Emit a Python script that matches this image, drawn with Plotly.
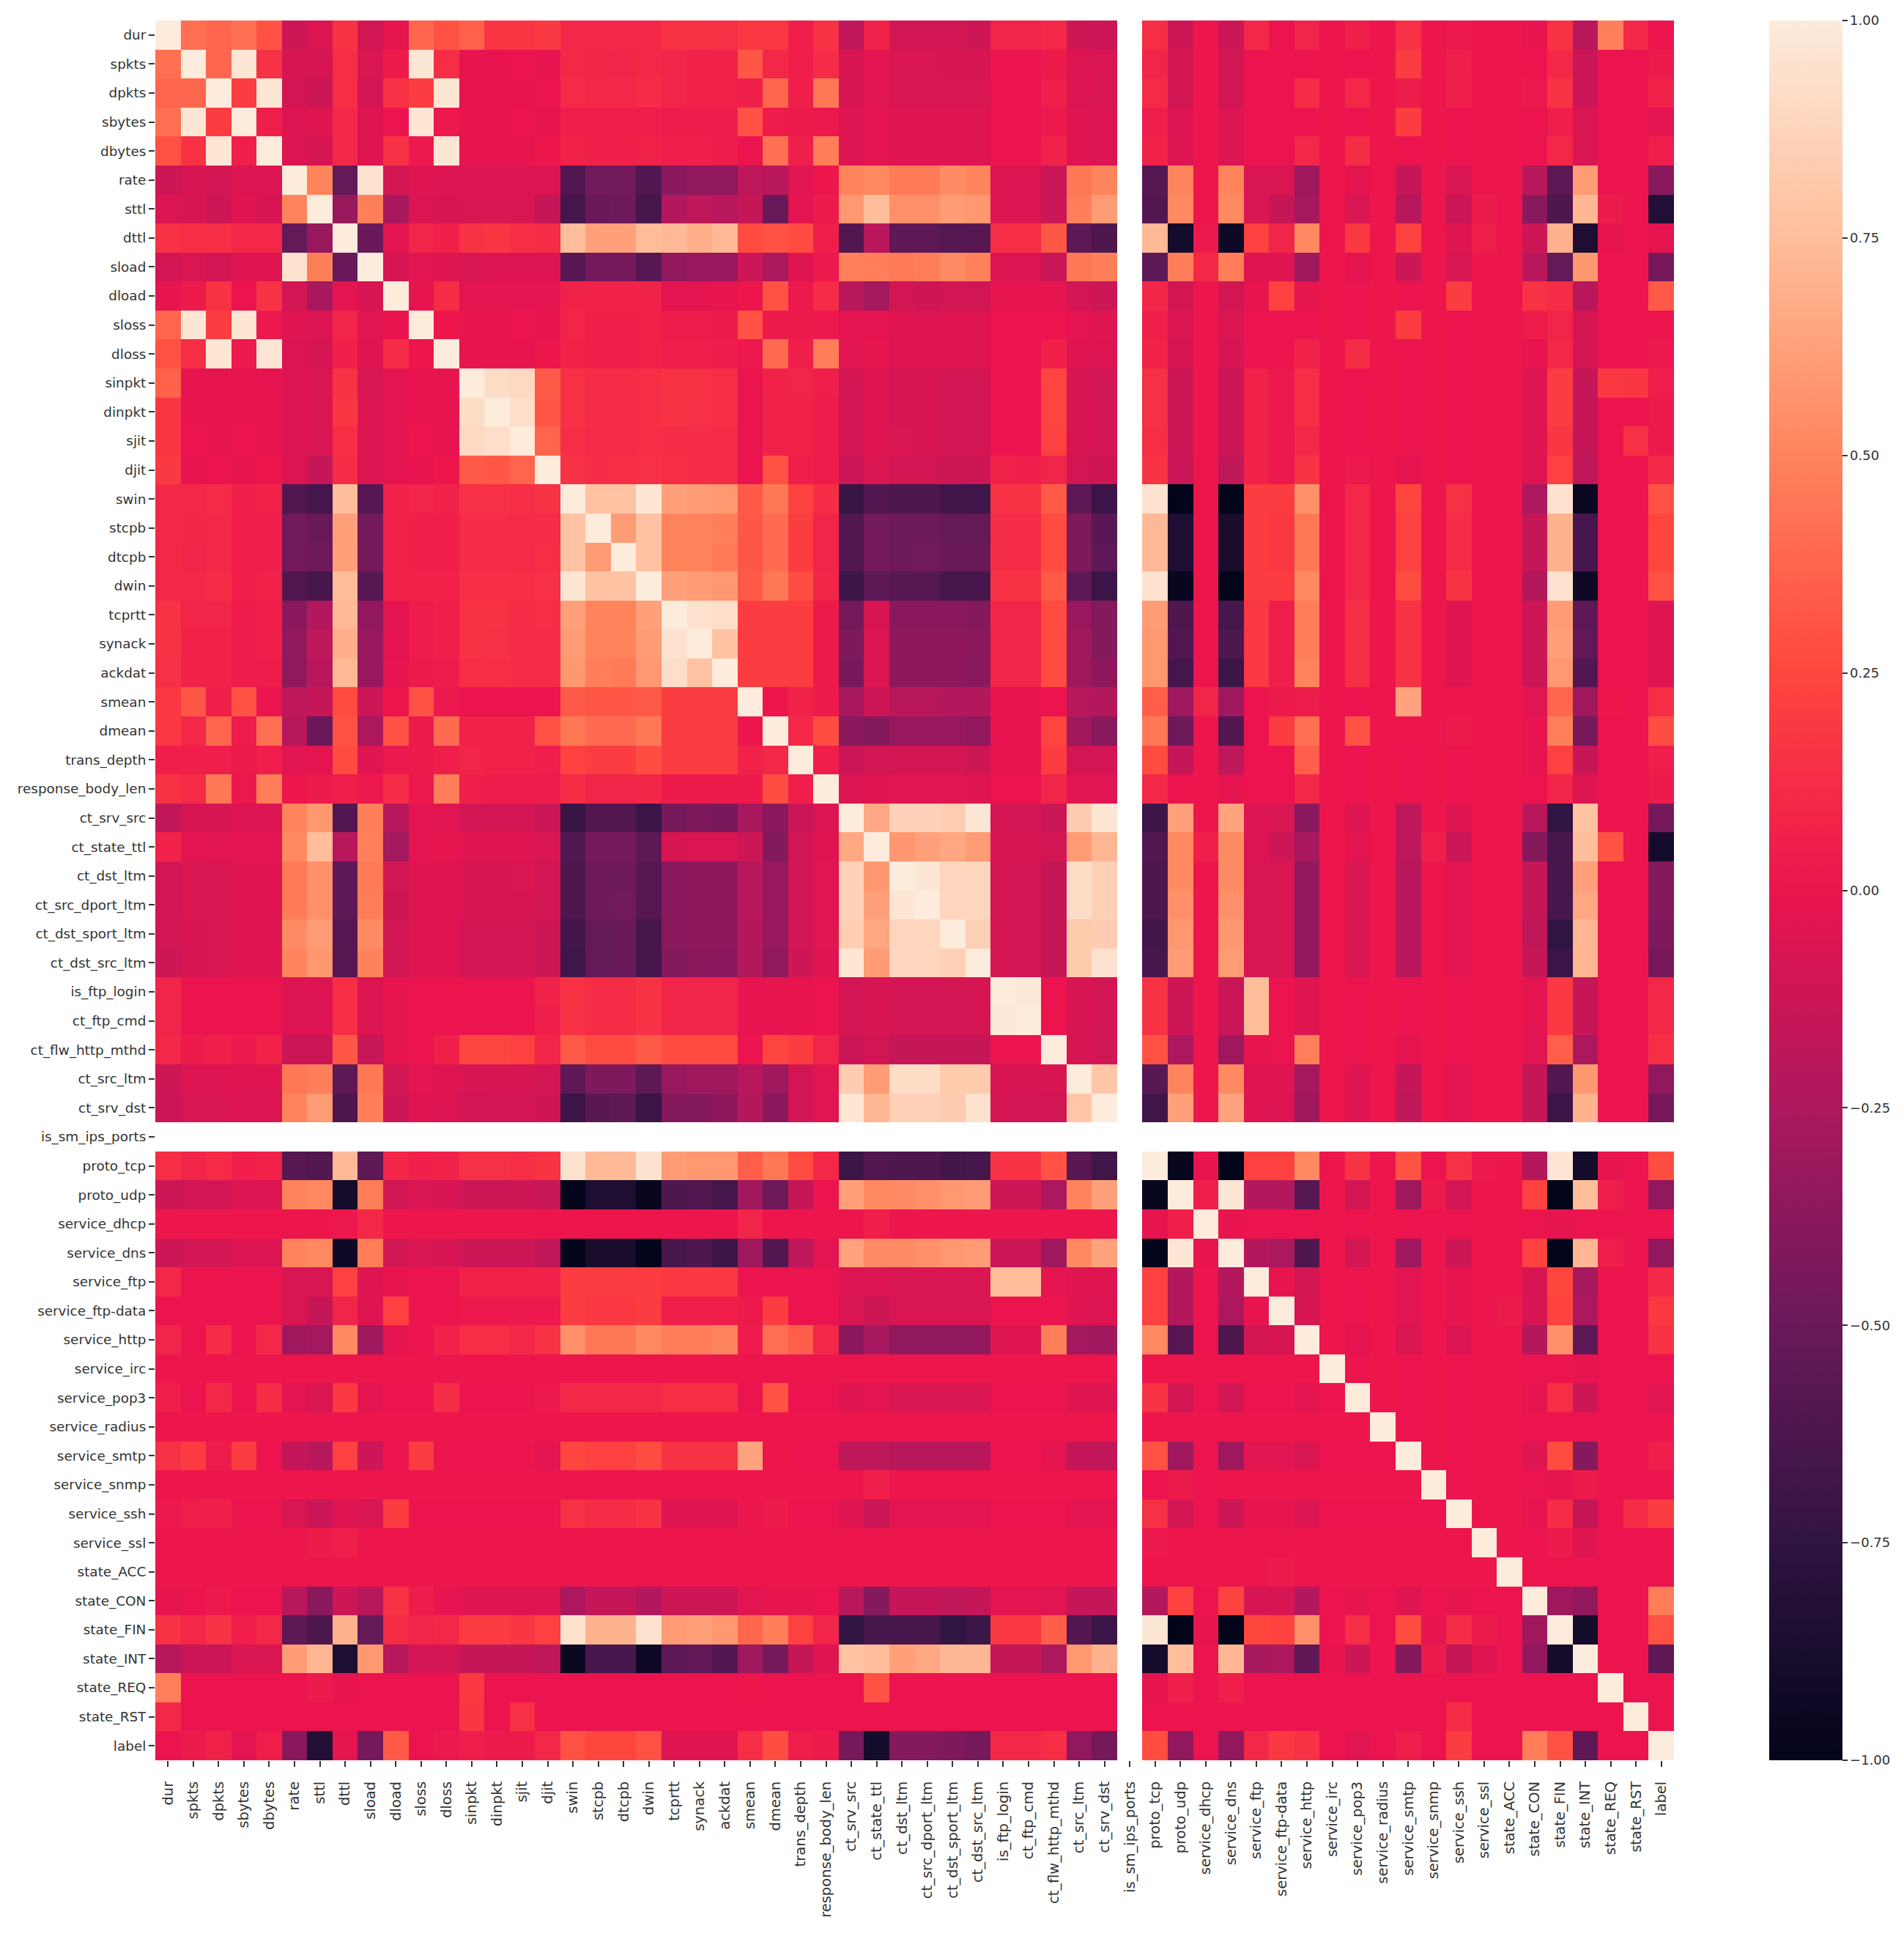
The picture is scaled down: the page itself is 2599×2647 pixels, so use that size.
import plotly.graph_objects as go

labels = ["dur","spkts","dpkts","sbytes","dbytes","rate","sttl","dttl","sload","dload","sloss","dloss",
"sinpkt","dinpkt","sjit","djit","swin","stcpb","dtcpb","dwin","tcprtt","synack","ackdat","smean","dmean",
"trans_depth","response_body_len","ct_srv_src","ct_state_ttl","ct_dst_ltm","ct_src_dport_ltm","ct_dst_sport_ltm",
"ct_dst_src_ltm","is_ftp_login","ct_ftp_cmd","ct_flw_http_mthd","ct_src_ltm","ct_srv_dst","is_sm_ips_ports",
"proto_tcp","proto_udp","service_dhcp","service_dns","service_ftp","service_ftp-data","service_http","service_irc",
"service_pop3","service_radius","service_smtp","service_snmp","service_ssh","service_ssl","state_ACC","state_CON",
"state_FIN","state_INT","state_REQ","state_RST","label"]

N = None
# Lower triangle of the correlation matrix, in hundredths.
lower_pct = [
[100],
[42,100],
[38,38,100],
[42,97,20,100],
[30,15,97,5,100],
[-12,-8,-10,-6,-6,100],
[-6,-8,-12,-5,-8,50,100],
[15,13,13,10,10,-52,-33,100],
[-10,-7,-9,-5,-5,95,48,-50,100],
[-2,3,15,0,15,-10,-26,-3,-8,100],
[38,97,20,97,2,-5,-6,8,-4,-1,100],
[30,13,97,2,97,-6,-8,6,-5,12,1,100],
[36,-1,-2,-1,-1,-6,-7,15,-7,-3,-1,-1,100],
[17,-1,-2,-1,-1,-6,-7,17,-6,-3,-1,-1,92,100],
[17,0,-1,0,-1,-6,-7,13,-6,-3,0,-1,90,93,100],
[19,-1,0,-1,1,-6,-15,12,-6,-3,-1,1,33,32,37,100],
[10,10,11,5,7,-60,-66,75,-58,7,8,7,14,14,13,15,100],
[10,9,10,5,6,-47,-50,62,-46,7,6,6,12,12,11,12,78,100],
[10,8,10,5,6,-47,-48,62,-45,7,6,6,12,12,11,13,78,60,100],
[10,10,12,5,7,-60,-65,74,-58,7,7,7,13,13,13,14,97,78,78,100],
[15,8,8,4,5,-38,-22,73,-35,-3,4,5,15,15,12,13,62,50,50,62,100],
[15,7,7,4,5,-35,-18,68,-33,-3,4,5,15,14,12,12,60,50,50,60,95,100],
[14,7,7,4,4,-35,-20,73,-32,-2,3,4,13,13,12,12,58,48,46,58,93,78,100],
[18,32,6,30,0,-18,-15,27,-12,1,30,2,0,0,0,0,33,32,32,33,20,20,20,100],
[18,10,38,4,42,-20,-50,30,-25,30,3,40,7,7,7,30,45,40,40,45,20,20,20,1,100],
[5,5,5,3,5,-4,-3,27,-5,2,3,5,8,7,7,5,23,20,20,28,20,20,20,7,10,100],
[15,12,45,2,47,1,3,5,2,12,2,47,5,4,4,4,12,8,8,9,3,3,3,3,28,5,100],
[-17,-8,-8,-6,-6,50,58,-60,48,-20,-3,-4,-10,-9,-9,-13,-72,-60,-60,-70,-45,-42,-44,-27,-38,-13,-6,100],
[7,-3,-4,-3,-3,52,75,-20,48,-28,-3,-2,-5,-5,-5,-7,-60,-46,-46,-55,-8,-7,-7,-12,-40,-10,-5,66,100],
[-10,-7,-7,-5,-5,46,55,-55,46,-10,-5,-5,-8,-8,-7,-10,-62,-48,-48,-58,-38,-36,-36,-20,-33,-10,-4,86,58,100],
[-10,-7,-7,-5,-5,46,55,-55,47,-11,-5,-5,-8,-8,-8,-10,-62,-48,-47,-58,-38,-36,-36,-20,-33,-10,-4,86,62,97,100],
[-10,-8,-7,-5,-5,53,60,-58,53,-10,-5,-5,-9,-9,-9,-12,-67,-52,-50,-65,-38,-36,-36,-22,-33,-10,-4,84,65,88,88,100],
[-12,-8,-7,-5,-5,50,58,-58,49,-10,-5,-5,-9,-9,-9,-12,-68,-52,-50,-65,-40,-37,-38,-22,-35,-11,-5,97,60,88,88,85,100],
[8,0,0,0,0,-6,-6,13,-6,-2,0,0,0,0,0,7,15,12,12,15,8,8,8,-1,-1,-1,0,-9,-8,-9,-9,-9,-9,100],
[8,0,0,0,0,-6,-6,13,-6,-2,0,0,0,0,0,5,15,12,12,15,8,8,8,-1,-1,-1,0,-9,-8,-9,-9,-9,-9,99,100],
[10,3,5,2,7,-13,-13,32,-14,-2,0,6,24,24,22,8,33,27,27,33,27,27,27,0,24,20,8,-13,-10,-15,-15,-15,-15,0,0,100],
[-12,-6,-6,-5,-5,45,48,-55,45,-10,-3,-5,-8,-8,-8,-10,-55,-42,-42,-55,-33,-30,-30,-20,-30,-9,-4,83,60,92,92,82,82,-8,-8,-8,100],
[-13,-7,-7,-6,-6,50,60,-62,48,-12,-5,-6,-10,-9,-9,-11,-70,-57,-55,-70,-40,-40,-36,-22,-38,-9,-4,97,72,85,85,83,95,-9,-9,-10,80,100],
[N,N,N,N,N,N,N,N,N,N,N,N,N,N,N,N,N,N,N,N,N,N,N,N,N,N,N,N,N,N,N,N,N,N,N,N,N,N,N],
[13,8,11,5,7,-58,-60,73,-55,9,6,7,14,14,13,16,95,73,73,95,60,58,58,35,45,27,10,-70,-60,-62,-62,-67,-65,15,15,30,-57,-68,N,100],
[-12,-10,-10,-6,-6,50,52,-90,47,-10,-7,-8,-12,-12,-12,-14,-100,-85,-85,-97,-62,-60,-66,-30,-48,-15,0,62,52,53,55,58,60,-12,-12,-25,50,62,N,-97,100],
[1,1,1,1,1,1,1,2,10,1,1,1,1,1,1,1,1,1,1,1,1,1,1,8,1,1,1,1,5,1,1,1,1,1,1,1,1,1,N,-1,5,100],
[-12,-10,-10,-6,-6,50,52,-93,47,-10,-7,-8,-12,-12,-12,-17,-100,-88,-88,-100,-65,-62,-70,-30,-60,-18,-3,63,53,53,55,58,60,-13,-13,-30,52,63,N,-100,97,-1,100],
[10,0,0,0,0,-7,-7,22,-5,-1,0,0,7,7,7,7,20,20,20,20,18,18,18,0,0,0,0,-6,-6,-7,-7,-7,-7,75,75,-2,-5,-5,N,22,-22,0,-22,100],
[0,0,0,0,0,-7,-15,8,-5,22,0,0,2,2,2,2,20,18,18,20,5,5,5,3,20,0,0,-7,-12,-7,-7,-7,-7,0,0,0,-5,-6,N,22,-22,0,-25,-1,100],
[8,0,12,0,10,-30,-28,52,-30,-2,0,7,13,13,10,15,55,45,45,52,47,47,50,4,42,35,10,-38,-27,-35,-35,-35,-35,-5,-5,48,-28,-30,N,52,-58,0,-62,-10,-8,100],
[1,1,1,1,1,1,1,1,1,1,1,1,1,1,1,1,1,1,1,1,1,1,1,1,1,1,1,1,1,1,1,1,1,1,1,1,1,1,N,1,1,1,1,1,1,1,100],
[5,0,10,0,12,-3,-7,18,-3,0,0,12,0,0,0,2,10,10,10,10,13,13,13,0,30,0,0,-5,-3,-7,-7,-7,-7,0,0,0,-5,-5,N,15,-10,0,-10,0,0,-3,0,100],
[1,1,1,1,1,1,1,1,1,1,1,1,1,1,1,1,1,1,1,1,1,1,1,1,1,1,1,1,1,1,1,1,1,1,1,1,1,1,N,1,1,1,1,1,1,1,1,1,100],
[14,20,4,20,0,-15,-20,22,-12,0,20,0,0,0,0,-3,25,22,22,27,15,15,15,63,1,0,0,-18,-18,-20,-20,-20,-20,0,0,-3,-15,-17,N,30,-30,0,-30,-4,-4,-7,0,0,0,100],
[1,1,1,1,1,1,1,1,1,1,1,1,1,1,1,1,1,1,1,1,1,1,1,1,1,1,1,1,5,1,1,1,1,1,1,1,1,1,N,0,3,0,1,1,1,1,1,1,1,1,100],
[2,5,6,0,0,-7,-13,-5,-7,20,0,0,0,0,0,0,14,12,12,15,-5,-5,-5,1,3,0,0,-5,-13,-3,-3,-3,-3,0,0,0,-3,-3,N,14,-10,0,-12,-2,-2,-6,0,0,0,0,0,100],
[1,1,1,1,1,1,3,5,1,1,1,1,1,1,1,1,1,1,1,1,1,1,1,1,1,1,1,1,1,1,1,1,1,1,1,1,1,1,N,2,1,1,1,1,1,1,1,1,1,1,1,1,100],
[1,1,1,1,1,1,1,1,1,1,1,1,1,1,1,1,1,1,1,1,1,1,1,1,1,1,1,1,1,1,1,1,1,1,1,1,1,1,N,1,1,1,1,1,3,1,1,1,1,1,1,1,1,100],
[-1,0,2,0,0,-20,-38,-12,-20,15,4,-1,-5,-5,-5,-5,-25,-15,-15,-22,-12,-12,-12,-4,-1,-2,0,-20,-40,-15,-15,-17,-15,-3,-3,-4,-15,-15,N,-22,23,0,23,-8,-8,-22,0,-2,0,-5,0,-1,0,0,100],
[15,10,15,5,10,-55,-62,70,-52,12,8,10,20,20,17,22,95,70,70,95,60,62,58,38,48,22,8,-75,-65,-65,-65,-75,-70,18,18,35,-60,-70,N,97,-100,-2,-100,25,23,55,0,13,0,27,-2,12,3,0,-30,100],
[-20,-13,-13,-7,-7,60,72,-85,58,-20,-9,-9,-15,-15,-15,-18,-95,-65,-65,-93,-55,-53,-60,-30,-45,-15,-5,78,75,62,65,72,72,-15,-15,-25,58,70,N,-90,75,0,72,-27,-25,-55,-1,-12,0,-40,3,-15,-5,0,-35,-90,100],
[48,0,0,0,0,0,3,-2,0,0,0,0,18,0,0,0,0,0,0,0,0,0,0,1,0,0,0,0,30,0,0,0,0,0,0,0,0,0,N,-2,5,0,5,0,0,0,0,0,0,0,0,0,0,0,0,0,0,100],
[10,0,0,0,0,0,0,0,0,0,0,0,17,0,14,0,0,0,0,0,0,0,0,0,0,0,0,0,0,0,0,0,0,0,0,0,0,0,N,0,0,0,0,0,0,0,0,0,0,0,0,12,0,0,0,0,0,0,100],
[0,3,7,-3,5,-38,-83,-2,-45,33,0,2,5,3,3,10,30,25,25,30,-5,-5,-5,13,28,5,3,-45,-90,-40,-40,-42,-45,10,10,13,-35,-45,N,28,-35,0,-35,10,18,15,0,-4,0,5,0,20,0,0,47,30,-55,0,0,100],
]

colorbar_ticks = [-1, -0.75, -0.5, -0.25, 0, 0.25, 0.5, 0.75, 1]
colorscale = [
    [0.0, "rgb(3,5,26)"], [0.125, "rgb(48,20,66)"], [0.25, "rgb(105,25,90)"],
    [0.375, "rgb(172,24,94)"], [0.5, "rgb(235,20,78)"], [0.625, "rgb(255,70,62)"],
    [0.75, "rgb(255,132,92)"], [0.875, "rgb(255,190,155)"], [1.0, "rgb(253,235,220)"],
]

n = len(labels)
z = [[None] * n for _ in range(n)]
for i, row in enumerate(lower_pct):
    assert len(row) == i + 1, (i, len(row))
    for j, v in enumerate(row):
        if v is not None:
            z[i][j] = z[j][i] = v / 100

L, R, T, B = 212, 2285, 28, 2403
W, H = 2599, 2647
CB_LEFT = 2415
tick_color = "#333333"

fig = go.Figure(go.Heatmap(
    z=z, x=labels, y=labels, zmin=-1, zmax=1, colorscale=colorscale, xgap=0, ygap=0,
    hoverongaps=False,
    colorbar=dict(
        x=(CB_LEFT - L) / (R - L), xanchor="left", xpad=0, y=0.5, yanchor="middle", ypad=0,
        len=1, lenmode="fraction", thickness=100, thicknessmode="pixels",
        outlinewidth=0, tickmode="array", tickvals=colorbar_ticks, tickformat=".2f",
        ticks="outside", ticklen=7, tickwidth=2, tickcolor=tick_color,
        tickfont=dict(family="DejaVu Sans", size=18, color=tick_color),
    ),
))
axis = dict(type="category", tickmode="array", tickvals=labels, ticktext=labels, ticks="outside",
            ticklen=8, tickwidth=2, tickcolor=tick_color, showgrid=False,
            zeroline=False, showline=False)
fig.update_xaxes(**axis, tickangle=-90, ticklabelstandoff=12,
                 tickfont=dict(family="DejaVu Sans", size=19.5, color=tick_color))
fig.update_yaxes(**axis, autorange="reversed",
                 tickfont=dict(family="DejaVu Sans", size=18.4, color=tick_color))
fig.update_layout(width=W, height=H, autosize=False, paper_bgcolor="white", plot_bgcolor="white",
                  margin=dict(l=L, r=W - R, t=T, b=H - B, autoexpand=False))
fig.write_html("out.html", post_script="document.body.style.margin='0';",
               config=dict(displayModeBar=False))
